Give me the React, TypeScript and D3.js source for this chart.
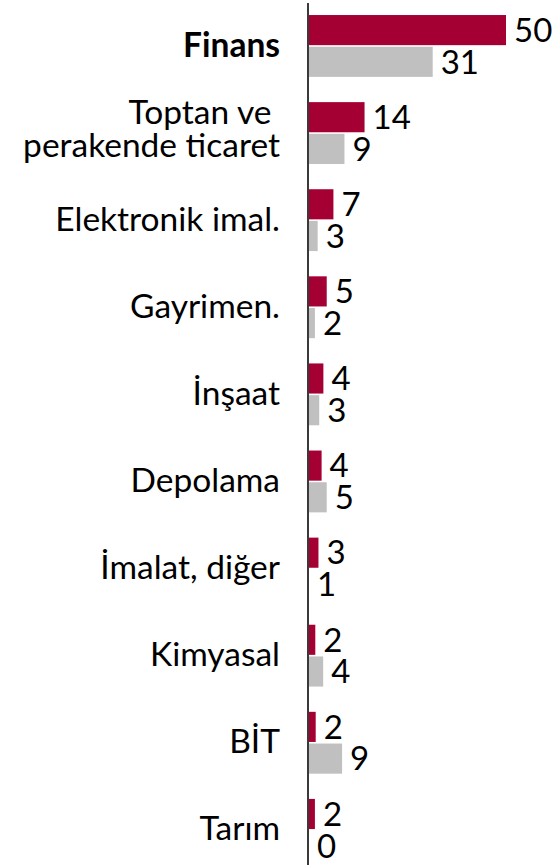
import React, { useEffect } from "react";
import * as d3 from "d3";

const categories: string[][] = [
  ["Finans"],
  ["Toptan ve ", "perakende ticaret"],
  ["Elektronik imal."],
  ["Gayrimen."],
  ["İnşaat"],
  ["Depolama"],
  ["İmalat, diğer"],
  ["Kimyasal"],
  ["BİT"],
  ["Tarım"],
];
const boldIndex = [0];

// Bar lengths
const redValues = [50, 14.1, 6.2, 4.5, 3.65, 3.2, 2.4, 1.6, 1.7, 1.5];
const grayValues = [31.4, 9.0, 2.2, 1.5, 2.6, 4.5, 0, 3.6, 8.4, 0];
// Data labels as printed
const redLabels = ["50", "14", "7", "5", "4", "4", "3", "2", "2", "2"];
const grayLabels = ["31", "9", "3", "2", "3", "5", "1", "4", "9", "0"];

const series = ["red", "gray"];
const colors: Record<string, string> = { red: "#A50034", gray: "#C0C0C0" };

const W = 559;
const H = 865;
const AXIS_X = 309;
const FONT = "Lato, 'Open Sans', sans-serif";
const FS = 33.5;
const VFS = 33;

export default function App() {
  useEffect(() => {
    document.body.style.margin = "0";
  }, []);

  const x = d3.scaleLinear().domain([0, 50]).range([AXIS_X, 506]);
  const idx = categories.map((_, i) => String(i));
  const y = d3
    .scaleBand<string>()
    .domain(idx)
    .range([2.4, 2.4 + 87.1 * categories.length])
    .paddingInner(0.29)
    .paddingOuter(0.145);
  const sub = d3
    .scaleBand<string>()
    .domain(series)
    .range([0, y.bandwidth()])
    .paddingInner(0.05);

  const vals: Record<string, number[]> = { red: redValues, gray: grayValues };
  const labs: Record<string, string[]> = { red: redLabels, gray: grayLabels };

  return (
    <svg
      width={W}
      height={H}
      style={{ display: "block", position: "absolute", left: 0, top: 0 }}
      fontFamily={FONT}
    >
      <rect width={W} height={H} fill="#fff" />
      {categories.map((lines, i) => {
        const g0 = y(String(i)) as number;
        const center = g0 + y.bandwidth() / 2;
        const n = lines.length;
        return (
          <g key={i}>
            {series.map((s) => {
              const v = vals[s][i];
              const by = g0 + (sub(s) as number);
              const bh = sub.bandwidth();
              return (
                <g key={s}>
                  {v > 0 && (
                    <rect
                      x={x(0)}
                      y={by}
                      width={x(v) - x(0)}
                      height={bh}
                      fill={colors[s]}
                    />
                  )}
                  <text
                    x={x(v) + 8}
                    y={by + bh / 2 + 11.8}
                    fontSize={VFS}
                    fill="#000"
                  >
                    {labs[s][i]}
                  </text>
                </g>
              );
            })}
            <text
              x={280}
              textAnchor="end"
              fontSize={FS}
              fill="#000"
              fontWeight={boldIndex.includes(i) ? 700 : 400}
              style={{ whiteSpace: "pre" }}
            >
              {lines.map((ln, j) => (
                <tspan
                  key={j}
                  x={280}
                  y={center + 10.6 + (j - (n - 1) / 2) * 33.4 - (n > 1 ? 3 : 0)}
                >
                  {ln}
                </tspan>
              ))}
            </text>
          </g>
        );
      })}
      <line x1={308} x2={308} y1={3} y2={H} stroke="#3a3a3a" strokeWidth={2} />
    </svg>
  );
}
